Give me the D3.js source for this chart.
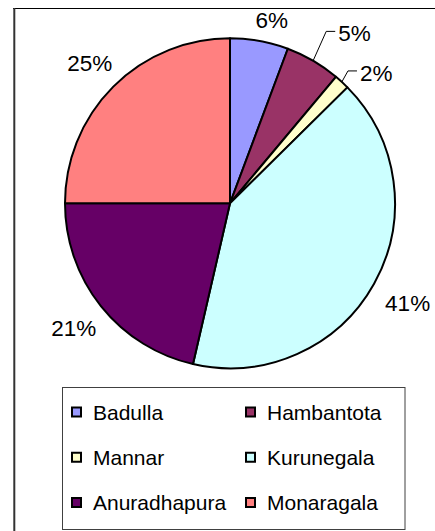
<!DOCTYPE html>
<html>

<head>
  <meta charset="utf-8">
  <title>District share pie</title>
  <script src="https://cdn.jsdelivr.net/npm/d3@7/dist/d3.min.js"></script>
  <style>
    body {
      margin: 0;
      background: #fff;
    }

    text {
      font-family: "Liberation Sans", Arial, sans-serif;
      fill: #000;
    }
  </style>
</head>

<body>
  <svg id="chart" width="435" height="531"></svg>

  <script>
    // data (share of total, %)
    var districts = ['Badulla', 'Hambantota', 'Mannar', 'Kurunegala', 'Anuradhapura', 'Monaragala'];
    var shares = [5.7, 5.4, 1.5, 41.0, 21.4, 25.0];
    var colors = ['#9999FF', '#993366', '#FFFFCC', '#CCFFFF', '#660066', '#FF8080'];

    // small slices get a leader line, length out from the rim
    var leaderLen = { 'Hambantota': 34, 'Mannar': 15 };

    var width = 435;
    var height = 531;
    var cx = 230, cy = 203.3;
    var radius = 165;
    var frameTop = 8.5;

    var svg = d3.select('#chart');

    // chart frame (cut at right/bottom like the source)
    svg.append('line')
      .attr('x1', 13).attr('x2', width)
      .attr('y1', frameTop).attr('y2', frameTop)
      .attr('stroke', '#000').attr('stroke-width', 1);
    svg.append('line')
      .attr('x1', 14.3).attr('x2', 14.3)
      .attr('y1', 8).attr('y2', height)
      .attr('stroke', '#333').attr('stroke-width', 2);

    var rows = districts.map((d, i) => ({ name: d, value: shares[i], color: colors[i] }));

    var pie = d3.pie()
      .value(d => d.value)
      .sort(null);

    var arc = d3.arc()
      .innerRadius(0)
      .outerRadius(radius);

    var arcs = pie(rows);

    var g = svg.append('g')
      .attr('transform', `translate(${cx},${cy})`);

    g.selectAll('path')
      .data(arcs)
      .enter()
      .append('path')
      .attr('d', arc)
      .attr('fill', d => d.data.color)
      .attr('stroke', '#000')
      .attr('stroke-width', 2)
      .attr('stroke-linejoin', 'round');

    var fmt = v => Math.round(v) + '%';
    var mid = d => (d.startAngle + d.endAngle) / 2;

    // labels placed just outside the rim
    arcs.forEach(d => {
      var a = mid(d);
      var sx = Math.sin(a), sy = -Math.cos(a);
      var lead = leaderLen[d.data.name];

      if (lead) {
        var x0 = sx * radius, y0 = sy * radius;
        var x1 = sx * (radius + lead) - 4, y1 = sy * (radius + lead);
        g.append('polyline')
          .attr('points', [[x0, y0], [x1, y1], [x1 + 9, y1]].map(p => p.join(',')).join(' '))
          .attr('fill', 'none')
          .attr('stroke', '#000')
          .attr('stroke-width', 1);
        g.append('text')
          .attr('x', x1 + 12)
          .attr('y', y1 + 1.5)
          .attr('dy', '0.36em')
          .style('font-size', '22.5px')
          .text(fmt(d.data.value));
      } else {
        var t = g.append('text')
          .attr('text-anchor', 'middle')
          .attr('dy', '0.36em')
          .style('font-size', '22.5px')
          .text(fmt(d.data.value));
        var bb = t.node().getBBox();
        var hw = bb.width / 2, hh = 8;
        var ext = Math.min(Math.abs(sx) > 1e-6 ? hw / Math.abs(sx) : 1e9,
                           Math.abs(sy) > 1e-6 ? hh / Math.abs(sy) : 1e9);
        var dist = radius + 22 + ext;
        var lx = sx * dist, ly = sy * dist;
        // keep the label inside the frame, nudged sideways when pushed down
        var minY = frameTop + 3.5 + hh - cy;
        if (ly < minY) {
          lx += (minY - ly) * 0.8;
          ly = minY;
        }
        t.attr('x', lx).attr('y', ly);
      }
    });

    // legend, two columns
    var legend = svg.append('g');
    legend.append('rect')
      .attr('x', 62.5).attr('y', 387.5)
      .attr('width', 342.5).attr('height', 142)
      .attr('fill', '#fff')
      .attr('stroke', '#404040')
      .attr('stroke-width', 1);

    var colX = d3.scaleOrdinal().domain([0, 1]).range([71, 245]);
    var rowY = d3.scalePoint().domain([0, 1, 2]).range([412, 502.5]);

    var item = legend.selectAll('g.item')
      .data(rows)
      .enter()
      .append('g')
      .attr('class', 'item')
      .attr('transform', (d, i) => `translate(${colX(i % 2)},${rowY(Math.floor(i / 2))})`);

    item.append('rect')
      .attr('x', 1).attr('y', -4.5)
      .attr('width', 9).attr('height', 9)
      .attr('fill', d => d.color)
      .attr('stroke', '#000')
      .attr('stroke-width', 2);

    item.append('text')
      .attr('x', 22)
      .attr('dy', '0.36em')
      .style('font-size', '21px')
      .text(d => d.name);
  </script>
</body>

</html>
